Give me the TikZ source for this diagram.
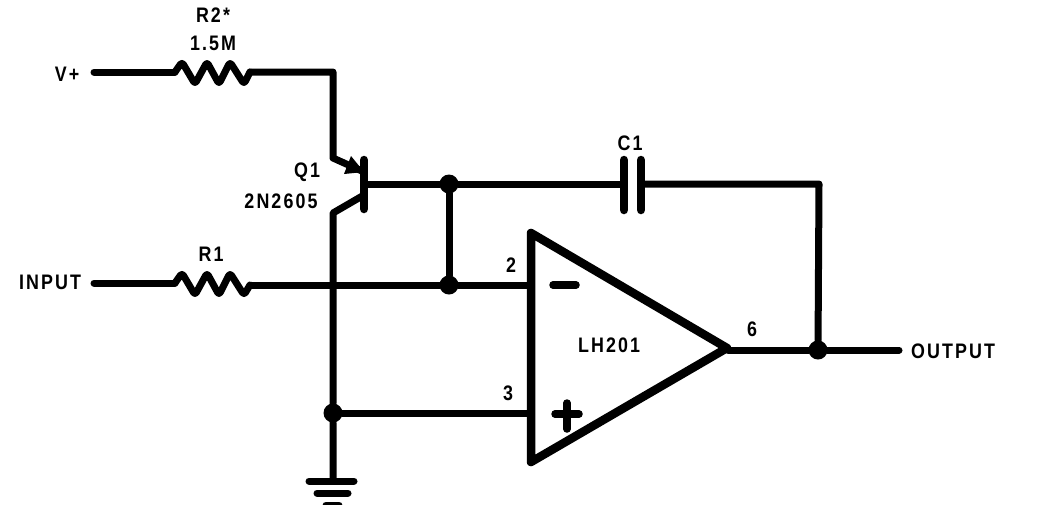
\documentclass[tikz,border=0pt]{standalone}
\usepackage{fontspec}
\setmainfont{Liberation Sans}
\newfontfamily\lab[LetterSpace=10,FakeStretch=0.85]{Liberation Sans}
\tikzset{
  x=1pt,y=-1pt,
  wire/.style={line width=7pt,line cap=round,line join=round,black},
  res/.style={wire,rounded corners=3pt},
  thick wire/.style={line width=8.5pt,line cap=round,line join=round,black},
  dot/.style={circle,fill=black,inner sep=0pt,minimum size=19pt},
  lbl/.style={inner sep=0pt,font=\fontsize{21}{21}\bfseries\lab,text=black},
  pt/.style={inner sep=0pt,minimum size=0pt}
}
\begin{document}
\begin{tikzpicture}
\useasboundingbox (0,0) rectangle (1048,504);
% junctions
\node[dot] (j1) at (449,184) {};
\node[dot] (j2) at (449,285) {};
\node[dot] (j3) at (333,413) {};
\node[dot] (j4) at (818,350) {};
% free ends
\coordinate (vp) at (94,72);
\coordinate (r2a) at (175,72);
\coordinate (r2b) at (250,72);
\coordinate (cc) at (333,72);
\coordinate (c1) at (333,158);
\coordinate (c2) at (364,172);
\coordinate (e1) at (364,195);
\coordinate (e2) at (333,213);
\coordinate (base) at (364,184);
\coordinate (bt) at (364,160);
\coordinate (bb) at (364,209);
\coordinate (inp) at (94,283);
\coordinate (r1a) at (175,283);
\coordinate (r1b) at (250,285);
\coordinate (cross) at (333,285);
\coordinate (capl) at (624,184);
\coordinate (capr) at (641,184);
\coordinate (capcorner) at (819,184);
\coordinate (gnd) at (333,480);
\coordinate (am) at (530,285);
\coordinate (ap) at (530,413);
\coordinate (aout) at (728,350);
\coordinate (out) at (899,350);
% resistors
\draw[wire] (vp) -- (r2a);
\draw[res] (r2a) -- (182,62) -- (195,84) -- (207,62) -- (219,84) -- (230,62) -- (244,84) -- (r2b);
\draw[wire] (r2b) -- (cc) -- (c1) -- (c2);
\draw[wire] (inp) -- (r1a);
\draw[res] (r1a) -- (182,273) -- (195,295) -- (207,273) -- (219,295) -- (230,273) -- (244,295) -- (r1b);
\draw[wire] (r1b) -- (cross) -- (j2) -- (am);
% transistor
\draw[thick wire] (bt) -- (bb);
\draw[wire] (base) -- (j1) -- (capl);
\draw[wire] (e1) -- (e2) -- (cross) -- (j3) -- (gnd);
\fill[black] (344,174) -- (351,156) -- (364,172) -- cycle;
\draw[wire] (j1) -- (j2);
% capacitor
\draw[thick wire] (624,160) -- (624,210);
\draw[thick wire] (641,160) -- (641,210);
\draw[wire] (capr) -- (capcorner) -- (j4);
% op amp
\draw[line width=8.5pt,line join=round,black] (531,233) -- (531,462) -- (727,348) -- cycle;
\draw[wire] (j3) -- (ap);
\draw[wire] (aout) -- (j4) -- (out);
\draw[line width=7.5pt,line cap=round,black] (553,285) -- (576,285);
\draw[line width=7.5pt,line cap=round,black] (555,414) -- (579,414);
\draw[line width=7.5pt,line cap=round,black] (567,403) -- (567,429);
% ground
\draw[wire] (309,481) -- (354,481);
\draw[wire] (317,493) -- (348,493);
\draw[wire] (326,505) -- (339,505);
% labels
\node[lbl] (tv) at (67,74) {V+};
\node[lbl] (tr2) at (213,15) {R2*};
\node[lbl] (tm) at (213,43) {1.5M};
\node[lbl] (tq) at (307,172) {Q1};
\node[lbl] (tn) at (281,201) {2N2605};
\node[lbl] (tc) at (630,143) {C1};
\node[lbl] (tr1) at (211,254) {R1};
\node[lbl] (tin) at (50,282) {INPUT};
\node[lbl] (t2) at (511,265) {2};
\node[lbl] (t3) at (508,393) {3};
\node[lbl] (tlh) at (609,345) {LH201};
\node[lbl] (t6) at (752,329) {6};
\node[lbl] (tout) at (953,351) {OUTPUT};
\end{tikzpicture}
\end{document}
